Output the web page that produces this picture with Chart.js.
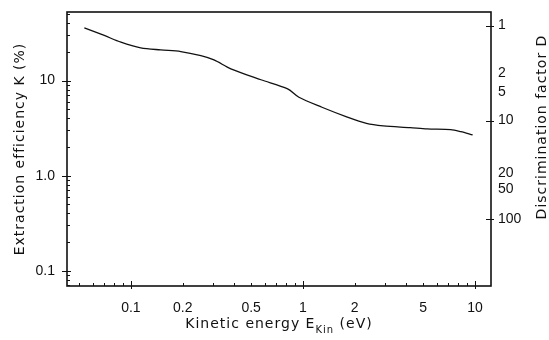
<!DOCTYPE html>
<html>
<head>
<meta charset="utf-8">
<script src="https://cdn.jsdelivr.net/npm/chart.js@4.4.1/dist/chart.umd.min.js"></script>
<style>
  html, body { margin: 0; padding: 0; background: #fff; }
  #wrap { width: 549px; height: 340px; }
</style>
</head>
<body>
<div id="wrap"><canvas id="c" width="549" height="340"></canvas></div>
<script>
// ---- data ----
const energy = [0.0536, 0.070, 0.0875, 0.114, 0.149, 0.195, 0.255, 0.304, 0.381, 0.570, 0.815, 0.948, 1.29, 1.78, 2.34, 2.93, 4.2, 5.27, 7.23, 8.28, 9.7];
const efficiency = [35.9, 29.8, 25.3, 22.1, 21.0, 20.2, 18.3, 16.5, 13.3, 10.2, 8.18, 6.67, 5.24, 4.18, 3.55, 3.34, 3.20, 3.10, 3.05, 2.90, 2.68];

const xTickValues = [0.1, 0.2, 0.5, 1, 2, 5, 10];
const xTickLabels = ['0.1', '0.2', '0.5', '1', '2', '5', '10'];
const xMajorTicks = [0.1, 1, 10];
const xMinorTicks = [0.05, 0.06, 0.07, 0.08, 0.09, 0.2, 0.3, 0.4, 0.5, 0.6, 0.7, 0.8, 0.9, 2, 3, 4, 5, 6, 7, 8, 9];

const yTickValues = [0.1, 1, 10];
const yTickLabels = ['0.1', '1.0', '10'];
const yMinorTicks = [0.07, 0.08, 0.09, 0.2, 0.3, 0.4, 0.5, 0.6, 0.7, 0.8, 0.9, 2, 3, 4, 5, 6, 7, 8, 9, 20, 30, 40, 50];

// right axis: discrimination factor D labels, placed at the K level where they appear
const dTickK = [37.9, 12.1, 7.48, 3.79, 1.05, 0.713, 0.352];
const dTickLabels = ['1', '2', '5', '10', '20', '50', '100'];
const dMajorTickK = [37.9, 3.79, 0.352];

const X_MIN = 0.0425, X_MAX = 12.4;
const Y_MIN = 0.0691, Y_MAX = 52.6;

const tickFont = { family: 'Liberation Sans, Arial, sans-serif', size: 14 };

function fitV(w) {
  return s => { s.width = w; s.paddingTop = 0; s.paddingBottom = 0; };
}

const decor = {
  id: 'decor',
  afterDraw(chart) {
    const ctx = chart.ctx;
    const a = chart.chartArea;
    const xs = chart.scales.x, ys = chart.scales.y;
    ctx.save();
    ctx.strokeStyle = '#111';
    // frame
    ctx.lineWidth = 1.6;
    ctx.strokeRect(a.left, a.top, a.right - a.left, a.bottom - a.top);
    ctx.lineWidth = 1;
    ctx.beginPath();
    // x ticks
    xMinorTicks.forEach(v => {
      const p = Math.round(xs.getPixelForValue(v)) + 0.5;
      ctx.moveTo(p, a.bottom); ctx.lineTo(p, a.bottom - 3);
    });
    xMajorTicks.forEach(v => {
      const p = Math.round(xs.getPixelForValue(v)) + 0.5;
      ctx.moveTo(p, a.bottom + 3); ctx.lineTo(p, a.bottom - 5);
    });
    // left y ticks
    yMinorTicks.forEach(v => {
      const p = Math.round(ys.getPixelForValue(v)) + 0.5;
      ctx.moveTo(a.left, p); ctx.lineTo(a.left + 3, p);
    });
    yTickValues.forEach(v => {
      const p = Math.round(ys.getPixelForValue(v)) + 0.5;
      ctx.moveTo(a.left - 5, p); ctx.lineTo(a.left + 4, p);
    });
    // right D ticks
    dMajorTickK.forEach(v => {
      const p = Math.round(chart.scales.y2.getPixelForValue(v)) + 0.5;
      ctx.moveTo(a.right - 5, p); ctx.lineTo(a.right + 3, p);
    });
    ctx.stroke();

    // titles
    ctx.fillStyle = '#111';
    ctx.letterSpacing = '1px';
    ctx.font = '14px "DejaVu Sans", sans-serif';
    ctx.textBaseline = 'alphabetic';
    // left title
    ctx.save();
    ctx.translate(24, 149);
    ctx.rotate(-Math.PI / 2);
    ctx.textAlign = 'center';
    ctx.fillText('Extraction efficiency K (%)', 0, 0);
    ctx.restore();
    // right title
    ctx.save();
    ctx.translate(546, 127);
    ctx.rotate(-Math.PI / 2);
    ctx.textAlign = 'center';
    ctx.fillText('Discrimination factor D', 0, 0);
    ctx.restore();
    // bottom title with subscript
    ctx.textAlign = 'left';
    const main1 = 'Kinetic energy E', sub = 'Kin', main2 = ' (eV)';
    ctx.font = '14px "DejaVu Sans", sans-serif';
    const w1 = ctx.measureText(main1).width;
    const w3 = ctx.measureText(main2).width;
    ctx.font = '10px "DejaVu Sans", sans-serif';
    const w2 = ctx.measureText(sub).width;
    const total = w1 + w2 + w3;
    let x0 = (a.left + a.right) / 2 - total / 2;
    const base = 328;
    ctx.font = '14px "DejaVu Sans", sans-serif';
    ctx.fillText(main1, x0, base);
    ctx.font = '10px "DejaVu Sans", sans-serif';
    ctx.fillText(sub, x0 + w1, base + 5);
    ctx.font = '14px "DejaVu Sans", sans-serif';
    ctx.fillText(main2, x0 + w1 + w2, base);
    ctx.restore();
  }
};

new Chart(document.getElementById('c'), {
  type: 'line',
  data: {
    datasets: [{
      data: energy.map((e, i) => ({ x: e, y: efficiency[i] })),
      borderColor: '#111',
      borderWidth: 1.3,
      pointRadius: 0,
      tension: 0.3,
      fill: false
    }]
  },
  options: {
    responsive: false,
    animation: false,
    events: [],
    layout: { padding: { top: 12, left: 0, right: 0, bottom: 0 } },
    plugins: { legend: { display: false }, tooltip: { enabled: false } },
    scales: {
      x: {
        type: 'logarithmic',
        min: X_MIN, max: X_MAX,
        afterBuildTicks: s => { s.ticks = xTickValues.map(v => ({ value: v })); },
        afterFit: s => { s.height = 54; s.paddingLeft = 0; s.paddingRight = 0; },
        grid: { display: false, drawTicks: false },
        border: { display: false },
        ticks: {
          autoSkip: false, maxRotation: 0, padding: 14,
          color: '#111', font: tickFont,
          callback: (v) => { const i = xTickValues.indexOf(v); return i >= 0 ? xTickLabels[i] : ''; }
        }
      },
      y: {
        type: 'logarithmic', position: 'left',
        min: Y_MIN, max: Y_MAX,
        afterBuildTicks: s => { s.ticks = yTickValues.map(v => ({ value: v })); },
        afterFit: fitV(67),
        grid: { display: false, drawTicks: false },
        border: { display: false },
        ticks: {
          autoSkip: false, padding: 12,
          color: '#111', font: tickFont,
          callback: (v) => { const i = yTickValues.indexOf(v); return i >= 0 ? yTickLabels[i] : ''; }
        }
      },
      y2: {
        type: 'logarithmic', position: 'right',
        min: Y_MIN, max: Y_MAX,
        afterBuildTicks: s => { s.ticks = dTickK.map(v => ({ value: v })); },
        afterFit: fitV(58),
        grid: { display: false, drawTicks: false },
        border: { display: false },
        ticks: {
          autoSkip: false, padding: 7,
          color: '#111', font: tickFont,
          callback: (v) => { const i = dTickK.indexOf(v); return i >= 0 ? dTickLabels[i] : ''; }
        }
      }
    }
  },
  plugins: [decor]
});
</script>
</body>
</html>
